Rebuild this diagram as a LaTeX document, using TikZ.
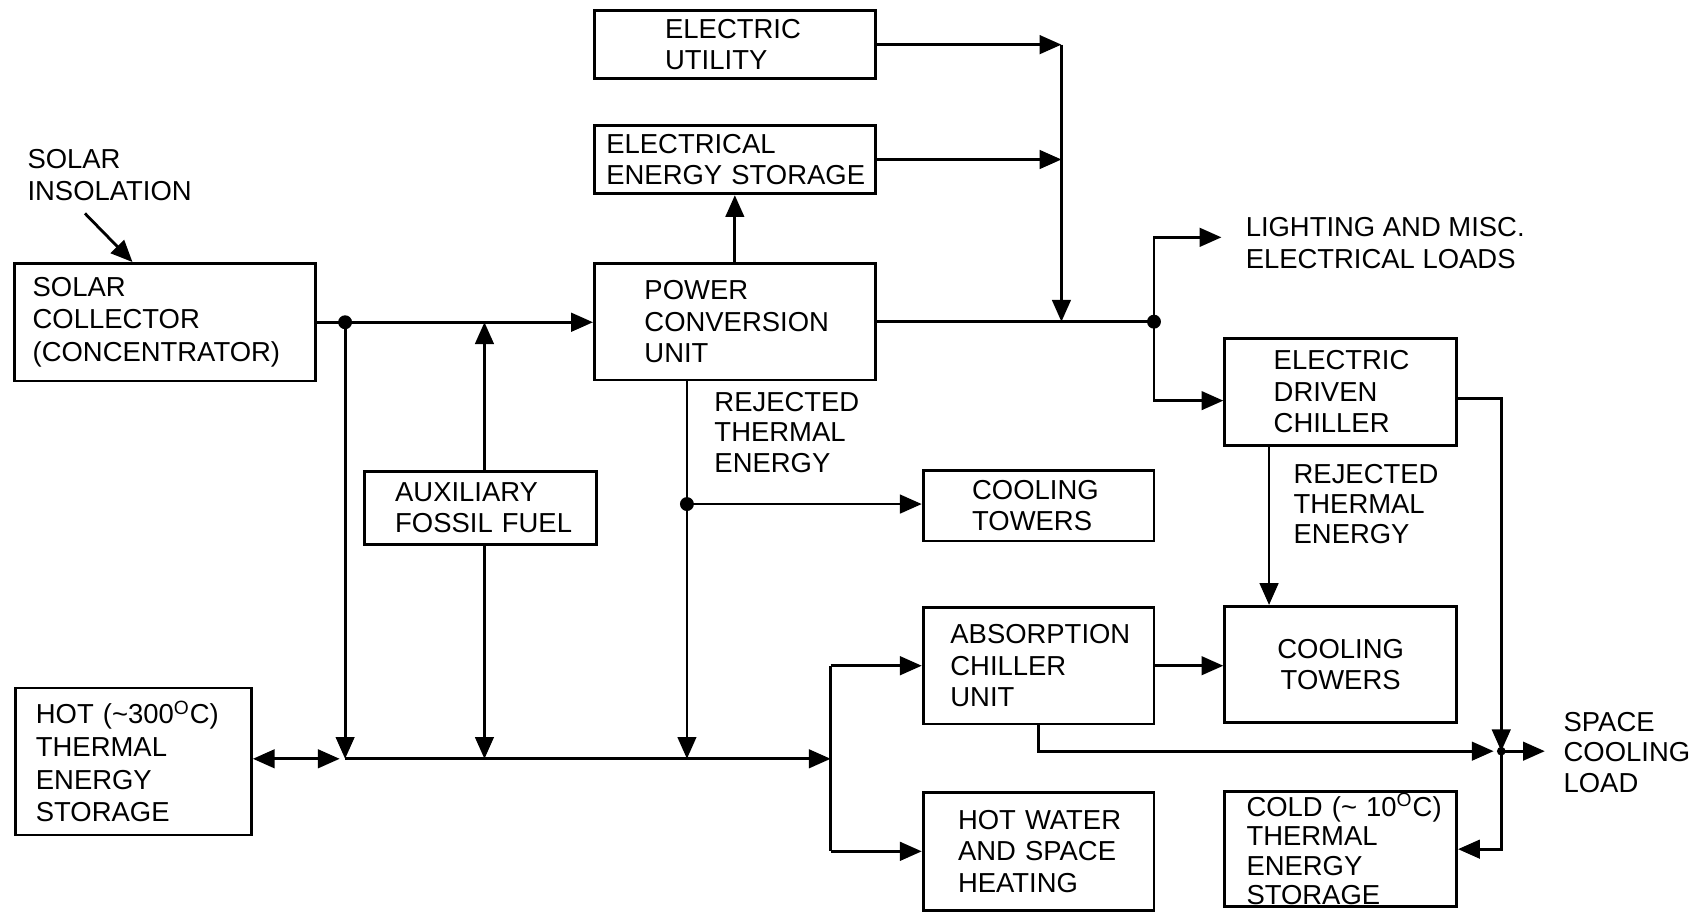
\documentclass[tikz,border=0pt]{standalone}
\usepackage{fontspec}
\setmainfont{Liberation Sans}
\usetikzlibrary{arrows.meta,calc}
\hyphenpenalty=10000
\exhyphenpenalty=10000
\hbadness=10000
\hfuzz=20pt
\begin{document}
\begin{tikzpicture}[x=0.5pt,y=-0.5pt,
  line width=1.3pt,
  blk/.style={draw, line width=1.3pt, inner ysep=0pt, align=left, font=\fontsize{12.6}{14.5}\selectfont},
  lbl/.style={inner sep=0pt, align=left, anchor=west, font=\fontsize{12.6}{14.5}\selectfont},
  arr/.style={-{Triangle[length=10pt,width=8.5pt]}},
  darr/.style={{Triangle[length=10pt,width=8.5pt]}-{Triangle[length=10pt,width=8.5pt]}}
]
\useasboundingbox (0,0) rectangle (1568,847);

% boxes
\node[blk, minimum width=138.5pt, minimum height=54pt, inner xsep=8.5pt, text width=121.5pt, font=\fontsize{12.6}{15}\selectfont] (sc) at (151.5,296) {SOLAR\\COLLECTOR\\(CONCENTRATOR)};
\node[blk, minimum width=108.5pt, minimum height=67.5pt, inner xsep=9.5pt, text width=89.5pt, font=\fontsize{12.6}{15}\selectfont] (hot) at (122.5,699.5) {HOT~(\textasciitilde300\textsuperscript{O}C)\\THERMAL\\ENERGY\\STORAGE};
\node[blk, minimum width=106.5pt, minimum height=33.5pt, inner xsep=14pt, text width=78.5pt] (aux) at (441.5,466.5) {AUXILIARY\\FOSSIL~FUEL};
\node[blk, minimum width=129pt, minimum height=53.5pt, inner xsep=23pt, text width=83pt] (pcu) at (675,295.5) {POWER\\CONVERSION\\UNIT};
\node[blk, minimum width=129pt, minimum height=31.5pt, inner xsep=5.5pt, text width=118pt] (ees) at (675,146.5) {ELECTRICAL\\ENERGY~STORAGE};
\node[blk, minimum width=129pt, minimum height=31pt, inner xsep=32.5pt, text width=64pt] (eu) at (675,41) {ELECTRIC\\UTILITY};
\node[blk, minimum width=106pt, minimum height=32.5pt, inner xsep=22.5pt, text width=61pt] (ct1) at (954,464.5) {COOLING\\TOWERS};
\node[blk, minimum width=106pt, minimum height=53.5pt, inner xsep=12.5pt, text width=81pt] (acu) at (954,611.5) {ABSORPTION\\CHILLER\\UNIT};
\node[blk, minimum width=106pt, minimum height=54pt, inner xsep=16pt, text width=74pt] (hw) at (954,782) {HOT~WATER\\AND~SPACE\\HEATING};
\node[blk, minimum width=106.5pt, minimum height=49pt, inner xsep=22.5pt, text width=61.5pt] (edc) at (1231.5,360) {ELECTRIC\\DRIVEN\\CHILLER};
\node[blk, minimum width=106.5pt, minimum height=53.5pt, inner xsep=13.25pt, text width=80pt, align=center] (ct2) at (1231.5,610.5) {COOLING\\TOWERS};
\node[blk, minimum width=106.5pt, minimum height=53pt, inner xsep=10pt, text width=86.5pt, font=\fontsize{12.6}{13.5}\selectfont] (cold) at (1231.5,780) {COLD~(\textasciitilde~10\textsuperscript{O}C)\\THERMAL\\ENERGY\\STORAGE};

% labels
\node[lbl] (ins) at (24,161) {SOLAR\\INSOLATION};
\node[lbl] (lt) at (1143,223.5) {LIGHTING AND MISC.\\ELECTRICAL LOADS};
\node[lbl, font=\fontsize{12.6}{14}\selectfont] (rt1) at (655,397) {REJECTED\\THERMAL\\ENERGY};
\node[lbl, font=\fontsize{12.6}{14}\selectfont] (rt2) at (1187,463) {REJECTED\\THERMAL\\ENERGY};
\node[lbl, font=\fontsize{12.6}{14}\selectfont] (scl) at (1435,691) {SPACE\\COOLING\\LOAD};

% junctions
\coordinate (j1) at (317,296);
\coordinate (b0) at (317,697);
\coordinate (b1) at (445,697);
\coordinate (b2) at (631,697);
\coordinate (b3) at (763,697);
\coordinate (jr) at (631,463);
\coordinate (v1) at (975,295.5);
\coordinate (j2) at (1060,295.5);
\coordinate (ltp) at (1122,218);
\coordinate (k) at (1379,690);
\coordinate (insa) at (78,196);

% connectors
\draw[arr] (insa) -- ($(sc.north west)+(110,0)$);
\draw[arr] (sc.east) -- (sc.east -| pcu.west);
\draw[arr] (j1) -- (b0);
\draw[arr] (aux.north -| b1) -- (b1 |- j1);
\draw[arr] (aux.south -| b1) -- (b1);
\draw[arr] (pcu.south -| b2) -- (b2);
\draw[arr] (jr) -- (jr -| ct1.west);
\draw[arr] (b0) -- (b3);
\draw[darr] (hot.east |- b0) -- ($(b0)+(-5,0)$);
\draw (b3 |- acu.west) -- (b3 |- hw.west);
\draw[arr] (b3 |- acu.west) -- (acu.west);
\draw[arr] (b3 |- hw.west) -- (hw.west);
\draw[arr] (pcu.north) -- (ees.south);
\draw[arr] (eu.east) -- (eu.east -| v1);
\draw[arr] (ees.east) -- (ees.east -| v1);
\draw[arr] (eu.east -| v1) -- (v1);
\draw (pcu.east) -- (j2);
\draw[arr] (j2) |- (ltp);
\draw[arr] (j2) |- ($(edc.west)+(0,8)$);
\draw[arr] ($(edc.east)+(0,6)$) -| (k);
\draw[arr] (acu.south) |- ($(k)+(-7,0)$);
\draw[arr] (k) -- ($(k)+(40,0)$);
\draw[arr] (k) |- (cold.east);
\draw[arr] ($(edc.south west)+(42,0)$) -- ($(ct2.north west)+(42,0)$);
\draw[arr] (acu.east) -- (acu.east -| ct2.west);

% dots
\fill (j1) circle (3.2pt);
\fill (jr) circle (3.2pt);
\fill (j2) circle (3.2pt);
\fill (k) circle (2pt);
\end{tikzpicture}
\end{document}
